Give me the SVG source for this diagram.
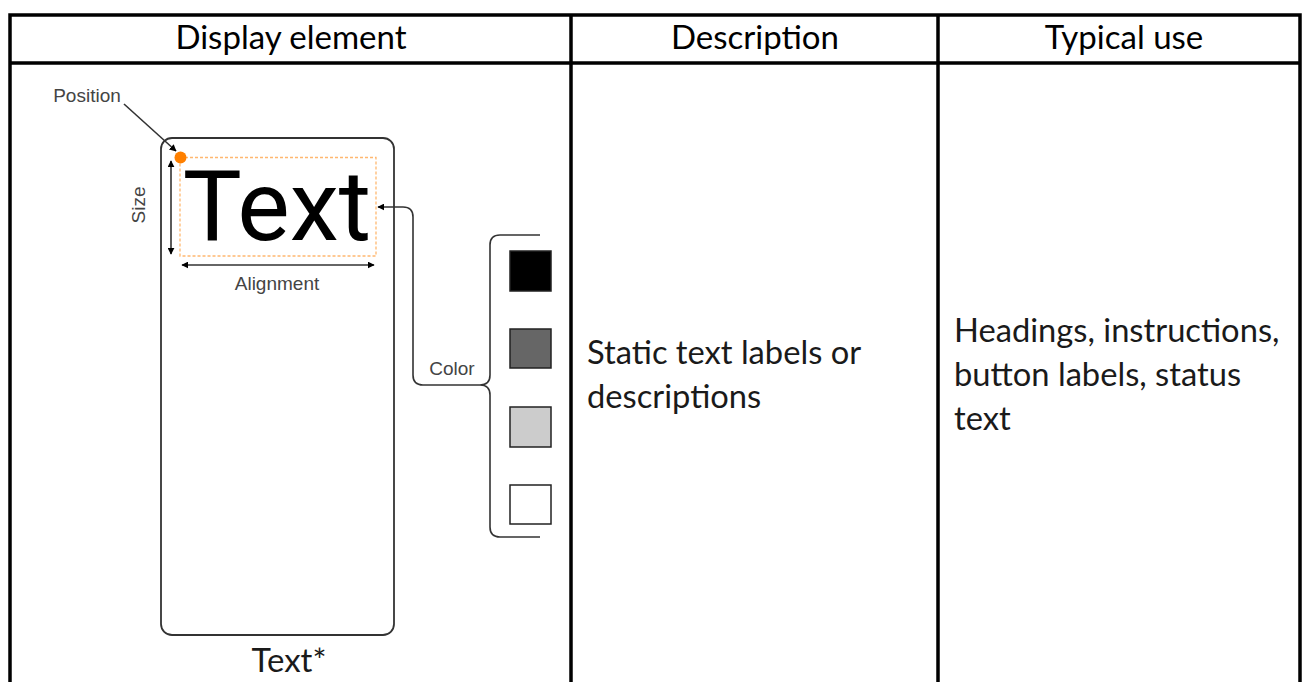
<svg xmlns="http://www.w3.org/2000/svg" width="1306" height="682" viewBox="0 0 1306 682">
<style>
.grid{stroke:#000;stroke-width:3.5;fill:none}
.hdr{font-family:Lato,"Liberation Sans",sans-serif;font-size:33px;fill:#000;text-anchor:middle}
.body{font-family:Lato,"Liberation Sans",sans-serif;font-size:32.7px;fill:#1a1a1a}
.lbl{font-family:"Liberation Sans",Arial,sans-serif;font-size:19px;fill:#444}
.ln{stroke:#333;stroke-width:1.6;fill:none}
.sw{stroke:#222;stroke-width:1.5}
</style>
<defs>
<marker id="ah" viewBox="0 0 10 10" refX="9" refY="5" markerWidth="7" markerHeight="7" orient="auto-start-reverse" markerUnits="userSpaceOnUse">
<path d="M0,0 L10,5 L0,10 z" fill="#000"/>
</marker>
</defs>
<rect width="1306" height="682" fill="#fff"/>
<g id="table">
<path class="grid" d="M10,682 V15 H1300 V682 M10,63 H1300 M571,15 V682 M938,15 V682"/>
<text class="hdr" x="291" y="49">Display element</text>
<text class="hdr" x="755" y="49">Description</text>
<text class="hdr" x="1124" y="49">Typical use</text>
</g>
<g id="description">
<text class="body" x="587" y="364">Static text labels or</text>
<text class="body" x="587" y="408">descriptions</text>
</g>
<g id="typical-use">
<text class="body" x="954" y="342">Headings, instructions,</text>
<text class="body" x="954" y="386">button labels, status</text>
<text class="body" x="954" y="430">text</text>
</g>
<g id="phone">
<rect x="161" y="138" width="233" height="497" rx="11" fill="#fff" stroke="#333" stroke-width="1.8"/>
</g>
<g id="text-box">
<rect x="180" y="157.5" width="196" height="98.5" fill="none" stroke="#ffb870" stroke-width="1.3" stroke-dasharray="3,2"/>
<text x="277" y="240" font-family="Roboto,'Liberation Sans',sans-serif" font-size="99" fill="#000" text-anchor="middle">Text</text>
<circle cx="180.5" cy="157.5" r="6" fill="#ff8000"/>
</g>
<g id="labels">
<text class="lbl" x="87" y="102" text-anchor="middle">Position</text>
<text class="lbl" x="277" y="290" text-anchor="middle">Alignment</text>
<text class="lbl" transform="translate(145,205) rotate(-90)" text-anchor="middle">Size</text>
<text class="lbl" x="452" y="375" text-anchor="middle">Color</text>
</g>
<g id="swatches">
<rect class="sw" x="510" y="251" width="41" height="40" fill="#000"/>
<rect class="sw" x="510" y="329" width="41" height="39" fill="#666"/>
<rect class="sw" x="510" y="407" width="41" height="40" fill="#ccc"/>
<rect class="sw" x="510" y="485" width="41" height="39" fill="#fff"/>
</g>
<text x="289" y="672" font-family="Lato,'Liberation Sans',sans-serif" font-size="33" fill="#1a1a1a" text-anchor="middle">Text*</text>
<g id="connectors">
<line class="ln" x1="124" y1="104" x2="176" y2="151" marker-end="url(#ah)"/>
<line class="ln" x1="171" y1="161" x2="171" y2="254" marker-start="url(#ah)" marker-end="url(#ah)"/>
<line class="ln" x1="182" y1="265" x2="374" y2="265" marker-start="url(#ah)" marker-end="url(#ah)"/>
<path class="ln" d="M480,385 H423 Q413,385 413,375 V217 Q413,207 403,207 H378" marker-end="url(#ah)"/>
<path class="ln" d="M540,235 H500 Q490,235 490,245 V375 Q490,385 480,385 Q490,385 490,395 V527 Q490,537 500,537 H540"/>
</g>
</svg>
